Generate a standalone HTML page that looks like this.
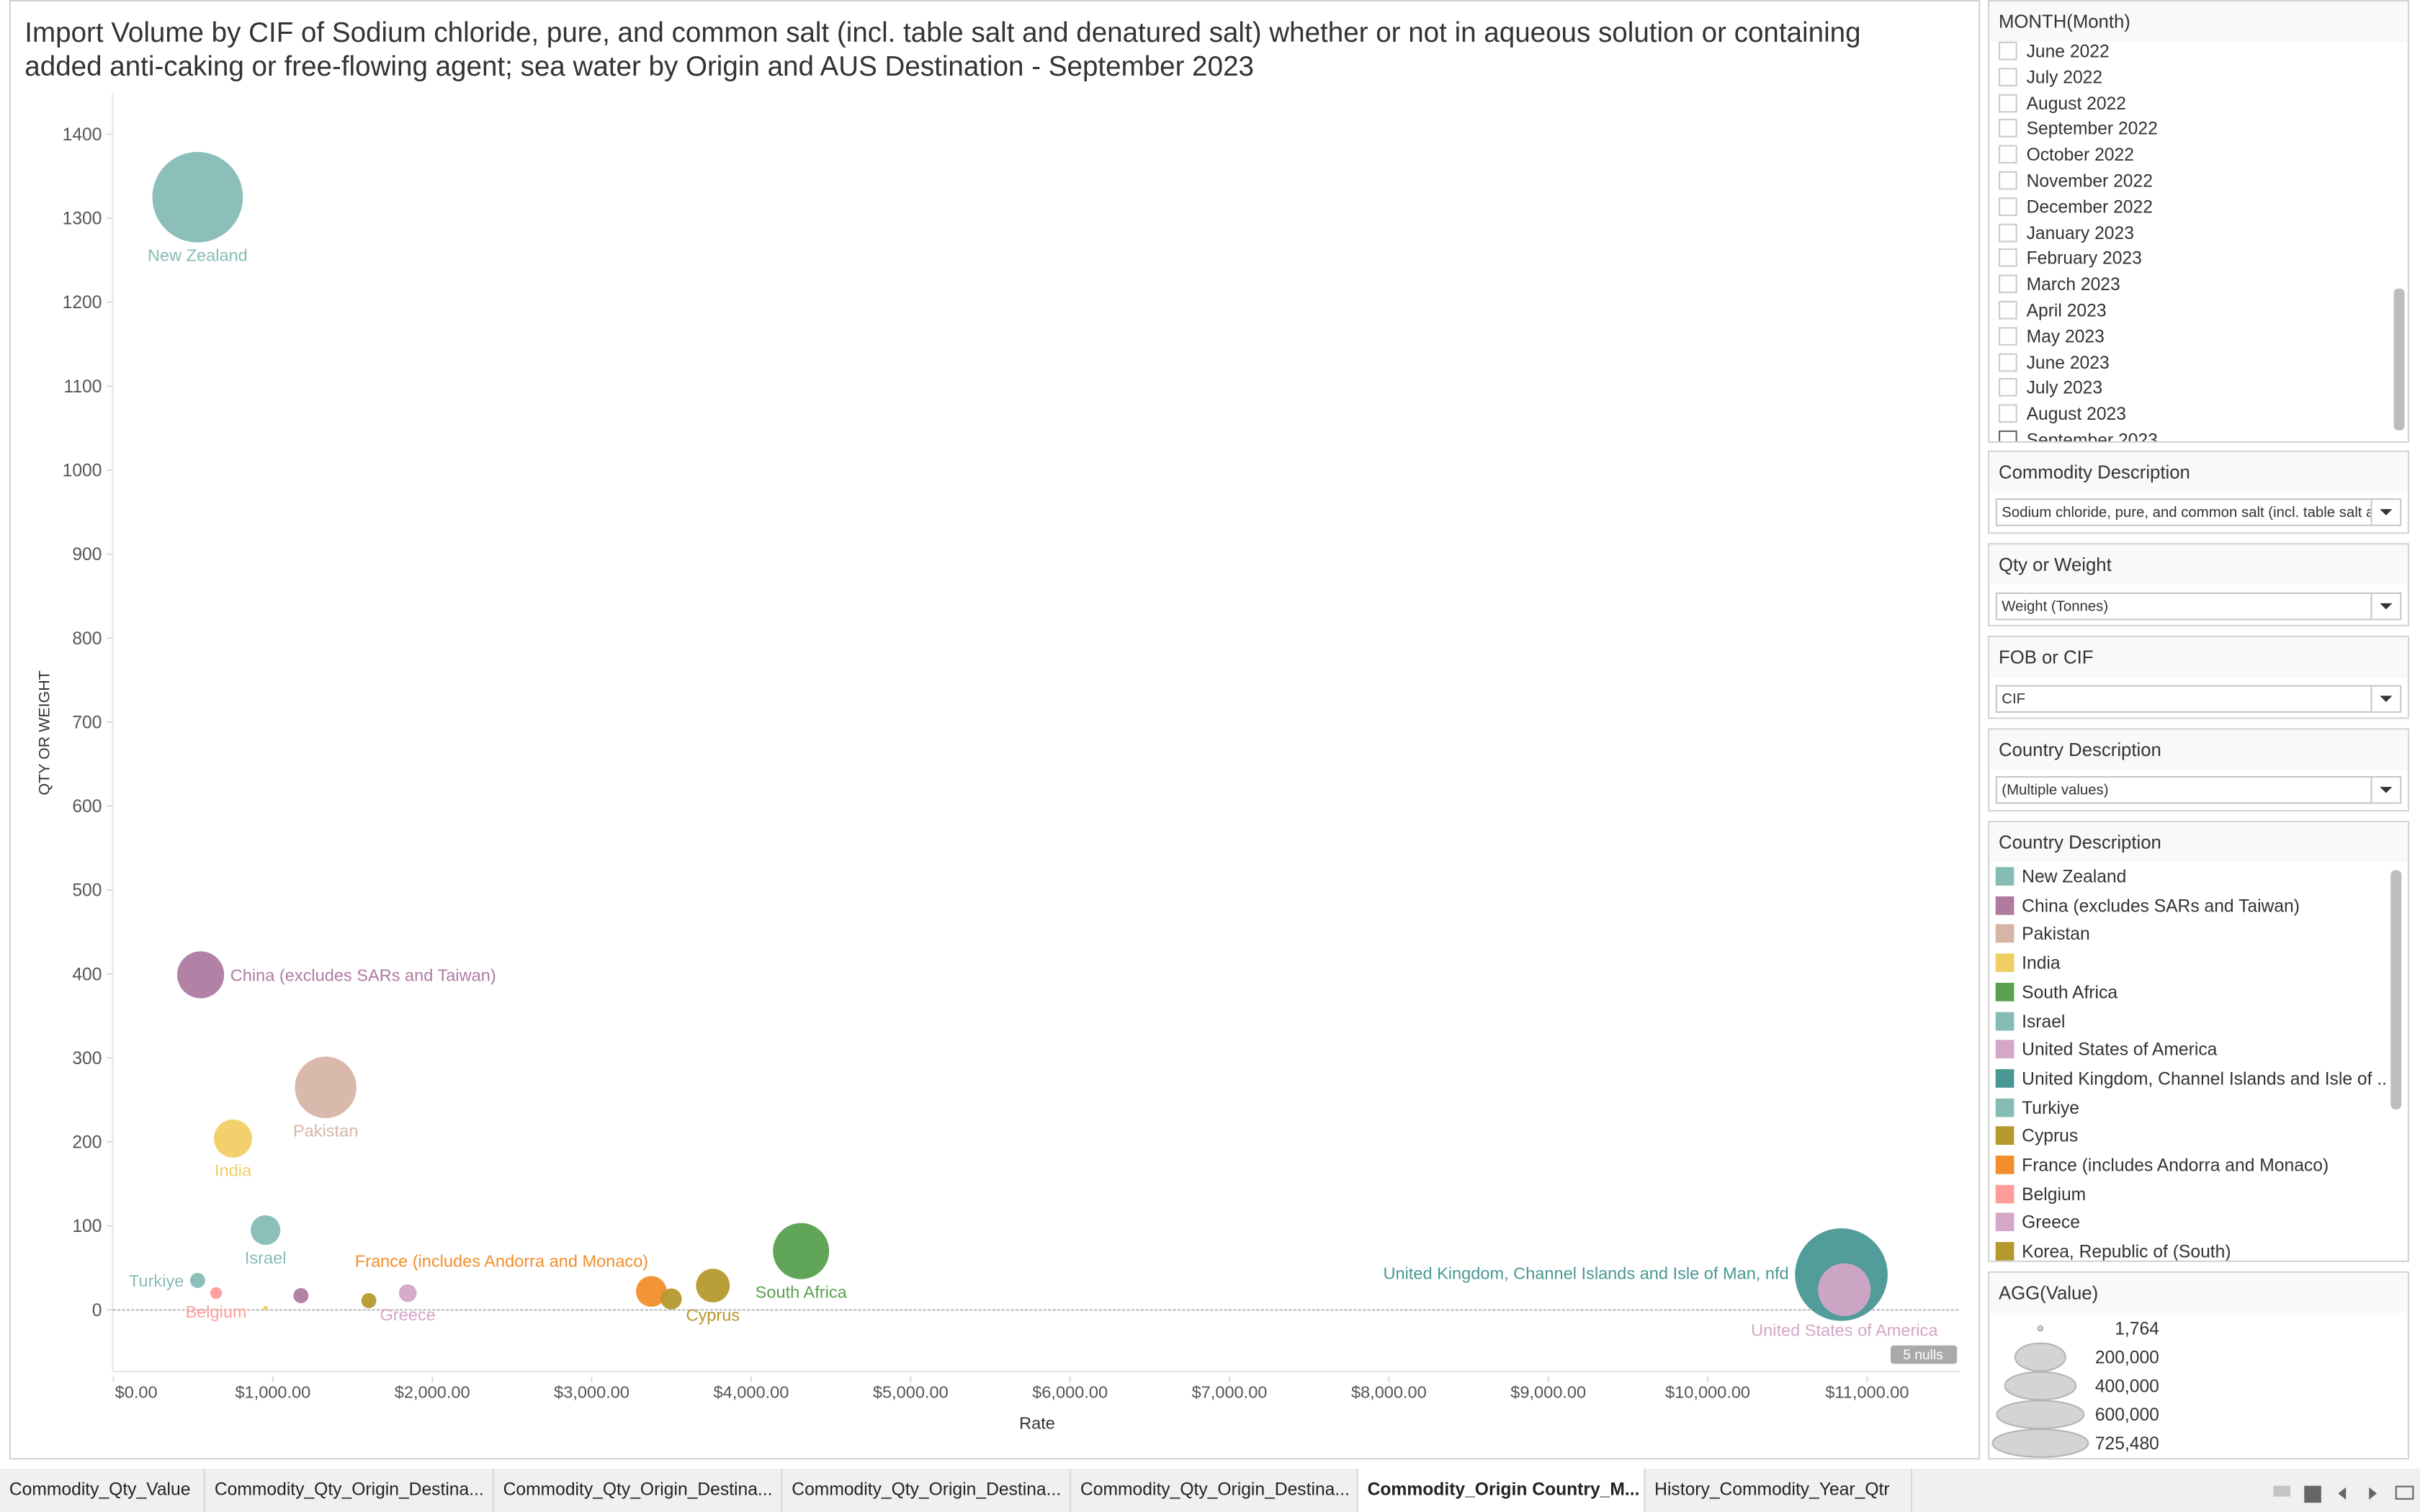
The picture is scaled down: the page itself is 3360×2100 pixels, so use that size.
<!DOCTYPE html>
<html><head><meta charset="utf-8">
<style>
html,body{margin:0;padding:0;background:#fff;}
body{width:3360px;height:2100px;overflow:hidden;font-family:"Liberation Sans",sans-serif;}
#wrap{position:absolute;left:0;top:0;width:1568px;height:980px;transform:scale(2.142857);transform-origin:0 0;color:#333;}
.panel{position:absolute;left:1288px;width:273px;border:1px solid #d4d4d4;background:#fff;box-sizing:border-box;}
.ph{height:26px;background:#f9f9f9;font-size:12px;line-height:27px;padding-left:6px;color:#333;}
.dd{position:absolute;left:4px;right:4px;height:18px;border:1px solid #c8c8c8;font-size:9.5px;line-height:17px;padding-left:3px;padding-right:20px;box-sizing:border-box;white-space:nowrap;overflow:hidden;}
.dd .ar{position:absolute;right:0;top:0;width:18px;height:16px;border-left:1px solid #c8c8c8;background:#fff;}
.dd .ar:after{content:"";position:absolute;left:5px;top:6px;border-left:4px solid transparent;border-right:4px solid transparent;border-top:4px solid #333;}
.mi{position:absolute;left:6px;font-size:11.5px;height:17px;line-height:17px;white-space:nowrap;}
.mi i{display:inline-block;width:12px;height:12px;border:1px solid #ccc;box-sizing:border-box;vertical-align:-2px;margin-right:6px;}
.li{position:absolute;left:4px;font-size:11.5px;line-height:16px;white-space:nowrap;}
.li i{display:inline-block;width:12px;height:12px;vertical-align:-2px;margin-right:5px;}
.tab{position:absolute;top:952px;height:28px;line-height:28px;font-size:11.5px;color:#222;padding-left:6px;border-right:1px solid #d8d8d8;box-sizing:border-box;white-space:nowrap;overflow:hidden;}
</style></head><body>
<div id="wrap">
<div style="position:absolute;left:6px;top:0;width:1277px;height:946px;border:1px solid #d4d4d4;box-sizing:border-box;"></div>
<div style="position:absolute;left:16px;top:10px;width:1238px;font-size:18px;line-height:22px;color:#333;">Import Volume by CIF of Sodium chloride, pure, and common salt (incl. table salt and denatured salt) whether or not in aqueous solution or containing added anti-caking or free-flowing agent; sea water by Origin and AUS Destination - September 2023</div>
<svg id="chart" style="position:absolute;left:0;top:0" width="1290" height="945"></svg>

<div class="panel" style="top:0;height:287px;overflow:hidden;">
<div class="ph">MONTH(Month)</div>
<div id="months"></div>
<div style="position:absolute;left:262px;top:186px;width:7px;height:92px;background:#bdbdbd;border-radius:3px;"></div>
</div>

<div class="panel" style="top:292px;height:54px;">
<div class="ph">Commodity Description</div>
<div class="dd" style="top:30px;">Sodium chloride, pure, and common salt (incl. table salt a...<span class="ar"></span></div>
</div>
<div class="panel" style="top:352px;height:54px;">
<div class="ph">Qty or Weight</div>
<div class="dd" style="top:31px;">Weight (Tonnes)<span class="ar"></span></div>
</div>
<div class="panel" style="top:412px;height:54px;">
<div class="ph">FOB or CIF</div>
<div class="dd" style="top:31px;">CIF<span class="ar"></span></div>
</div>
<div class="panel" style="top:472px;height:54px;">
<div class="ph">Country Description</div>
<div class="dd" style="top:30px;">(Multiple values)<span class="ar"></span></div>
</div>

<div class="panel" style="top:532px;height:286px;overflow:hidden;">
<div class="ph">Country Description</div>
<div id="legend"></div>
<div style="position:absolute;left:260px;top:31px;width:7px;height:155px;background:#bdbdbd;border-radius:3px;"></div>
</div>

<div class="panel" style="top:824px;height:122px;">
<div class="ph">AGG(Value)</div>
<svg id="sizeleg" width="271" height="94" style="position:absolute;left:0;top:26px"></svg>
</div>

<div style="position:absolute;left:0;top:952px;width:1568px;height:28px;background:#f0f0f0;"></div>
<div class="tab" style="left:0;width:133px;">Commodity_Qty_Value</div>
<div class="tab" style="left:133px;width:187px;">Commodity_Qty_Origin_Destina...</div>
<div class="tab" style="left:320px;width:187px;">Commodity_Qty_Origin_Destina...</div>
<div class="tab" style="left:507px;width:187px;">Commodity_Qty_Origin_Destina...</div>
<div class="tab" style="left:694px;width:186px;">Commodity_Qty_Origin_Destina...</div>
<div class="tab" style="left:880px;width:186px;font-weight:bold;background:#fff;">Commodity_Origin Country_M...</div>
<div class="tab" style="left:1066px;width:173px;">History_Commodity_Year_Qtr</div>
<div style="position:absolute;left:1473px;top:963px;width:11px;height:7px;background:#c4c4c4;"></div>
<div style="position:absolute;left:1493px;top:963px;width:11px;height:11px;background:#666;"></div>
<div style="position:absolute;left:1515px;top:964px;border-top:4px solid transparent;border-bottom:4px solid transparent;border-right:5px solid #666;"></div>
<div style="position:absolute;left:1535px;top:964px;border-top:4px solid transparent;border-bottom:4px solid transparent;border-left:5px solid #666;"></div>
<div style="position:absolute;left:1552px;top:963px;width:10px;height:7px;border:1.5px solid #666;"></div>
</div>

<script>
const NS="http://www.w3.org/2000/svg";
const countries=["New Zealand","China (excludes SARs and Taiwan)","Pakistan","India","South Africa","Israel","United States of America","United Kingdom, Channel Islands and Isle of Man, nfd","Turkiye","Cyprus","Korea, Republic of (South)","France (includes Andorra and Monaco)","Belgium","Greece","Other A","Other B","Other C"];
const rates=[528,547,1331,750,4313,954,10857,10838,528,3760,3499,3374,644,1846,1176,1602,954];
const qtys=[1325,399,265,204,70,95,24,42,35,29,13,22,20,20,17,11,2];
const values=[650000,175000,300000,115000,250000,70000,220000,680000,18000,90000,35000,75000,11000,25000,18000,18000,1764];
const colors=["#86bcb6","#b07aa1","#d7b5a6","#f1ce63","#59a14f","#86bcb6","#d4a6c8","#499894","#86bcb6","#b6992d","#b6992d","#f28e2b","#ff9d9a","#d4a6c8","#b07aa1","#b6992d","#f1ce63"];
const labelText=["New Zealand","China (excludes SARs and Taiwan)","Pakistan","India","South Africa","Israel","United States of America","United Kingdom, Channel Islands and Isle of Man, nfd","Turkiye","Cyprus","","France (includes Andorra and Monaco)","Belgium","Greece","","",""];
const labelPos=["below","right","below","below","below","below","below","left","left","below","","aboveleft","below","below","","",""];
const yTicks=[0,100,200,300,400,500,600,700,800,900,1000,1100,1200,1300,1400];
const xTicks=[0,1000,2000,3000,4000,5000,6000,7000,8000,9000,10000,11000];
const xTickLabels=["$0.00","$1,000.00","$2,000.00","$3,000.00","$4,000.00","$5,000.00","$6,000.00","$7,000.00","$8,000.00","$9,000.00","$10,000.00","$11,000.00"];
const sizeLegend=[1764,200000,400000,600000,725480];
const sizeLegendLabels=["1,764","200,000","400,000","600,000","725,480"];
const legendNames=["New Zealand","China (excludes SARs and Taiwan)","Pakistan","India","South Africa","Israel","United States of America","United Kingdom, Channel Islands and Isle of ..","Turkiye","Cyprus","France (includes Andorra and Monaco)","Belgium","Greece","Korea, Republic of (South)"];
const legendColors=["#86bcb6","#b07aa1","#d7b5a6","#f1ce63","#59a14f","#86bcb6","#d4a6c8","#499894","#86bcb6","#b6992d","#f28e2b","#ff9d9a","#d4a6c8","#b6992d"];
const months=["June 2022","July 2022","August 2022","September 2022","October 2022","November 2022","December 2022","January 2023","February 2023","March 2023","April 2023","May 2023","June 2023","July 2023","August 2023","September 2023"];

const X0=73.5, XK=0.1033, Y0=849, YK=0.5443, PL=73, PR=1270, PB=889, PT=60;
const xs=v=>X0+v*XK, ys=v=>Y0-v*YK;
const rs=v=>Math.max(1.5,31*Math.sqrt(v/725480));
const svg=document.getElementById('chart');
function mk(tag,attrs,parent){const e=document.createElementNS(NS,tag);for(const k in attrs)e.setAttribute(k,attrs[k]);(parent||svg).appendChild(e);return e;}

let a=mk('line',{x1:PL,y1:PT,x2:PL,y2:PB,stroke:'#e6e6e6'});


a=mk('line',{x1:PL,y1:PB,x2:PR,y2:PB,stroke:'#e6e6e6'});


a=mk('line',{x1:PL,y1:Y0,x2:PR,y2:Y0,stroke:'#bbb','stroke-dasharray':'2,1'});


yTicks.forEach(v=>{
 const t=mk('text',{x:66,y:ys(v)+4,'text-anchor':'end','font-size':11.5,fill:'#555'});t.textContent=v;
 
 
 mk('line',{x1:69,x2:PL,y1:ys(v),y2:ys(v),stroke:'#ddd'});
});
xTicks.forEach((v,i)=>{
 const x=xs(v);
 mk('line',{x1:x,x2:x,y1:PB+3,y2:PB+7,stroke:'#ddd'});
 const t=mk('text',{x:i===0?x+1:x,y:906,'text-anchor':i===0?'start':'middle','font-size':11,fill:'#555'});t.textContent=xTickLabels[i];
 
 
});
let t=mk('text',{x:672,y:926,'text-anchor':'middle','font-size':11,fill:'#333'});t.textContent='Rate';


t=mk('text',{x:0,y:0,'text-anchor':'middle','font-size':10,fill:'#333',transform:'translate(32,475) rotate(-90)'});t.textContent='QTY OR WEIGHT';



const order=values.map((v,i)=>i).sort((p,q)=>values[q]-values[p]);
order.forEach(i=>{
 const c=mk('circle',{cx:xs(rates[i]),cy:ys(qtys[i]),r:rs(values[i]),fill:colors[i],'fill-opacity':0.95});
 
 
});
labelText.forEach((s,i)=>{
 if(!s)return;
 const x=xs(rates[i]),y=ys(qtys[i]),r=rs(values[i]);let a={},p=labelPos[i];
 if(p==='below')a={x:x,y:y+r+12,'text-anchor':'middle'};
 if(p==='right')a={x:x+r+4,y:y+4,'text-anchor':'start'};
 if(p==='left')a={x:x-r-4,y:y+4,'text-anchor':'end'};
 if(p==='aboveleft')a={x:x-97,y:y-16,'text-anchor':'middle'};
 if(i===7)a={x:x-r-4,y:829,'text-anchor':'end'};
 if(i===6)a={x:x,y:866,'text-anchor':'middle'};
 if(i===12)a={x:x,y:854,'text-anchor':'middle'};
 a['font-size']=11;a.fill=colors[i];
 const tt=mk('text',a);tt.textContent=s;
 
 
});
const nb=mk('rect',{x:1225,y:872,width:43,height:12,rx:2,fill:'#aaa'});


t=mk('text',{x:1246,y:881,'text-anchor':'middle','font-size':9,fill:'#fff'});t.textContent='5 nulls';



const mc=document.getElementById('months');
months.forEach((m,i)=>{
 const d=document.createElement('div');d.className='mi';d.style.top=(25+i*16.8)+'px';
 d.innerHTML='<i'+(i===15?' style="border-color:#666"':'')+'></i>'+m;
 
 
 mc.appendChild(d);
});
const lc=document.getElementById('legend');
legendNames.forEach((n,i)=>{
 const d=document.createElement('div');d.className='li';d.style.top=(28+i*18.7)+'px';
 d.innerHTML='<i style="background:'+legendColors[i]+'"></i>'+n;
 
 
 lc.appendChild(d);
});
const sl=document.getElementById('sizeleg');
sizeLegend.forEach((v,i)=>{
 const y=10+i*18.6, r=rs(v);
 const e=document.createElementNS(NS,'ellipse');
 e.setAttribute('cx',33);e.setAttribute('cy',y);e.setAttribute('rx',r);e.setAttribute('ry',Math.min(r,9));
 e.setAttribute('fill','#d4d4d4');e.setAttribute('stroke','#b5b5b5');
 
 
 sl.appendChild(e);
 const tx=document.createElementNS(NS,'text');
 tx.setAttribute('x',110);tx.setAttribute('y',y+4);tx.setAttribute('text-anchor','end');tx.setAttribute('font-size',11.5);tx.setAttribute('fill','#333');
 tx.textContent=sizeLegendLabels[i];
 
 
 sl.appendChild(tx);
});
</script>
</body></html>
